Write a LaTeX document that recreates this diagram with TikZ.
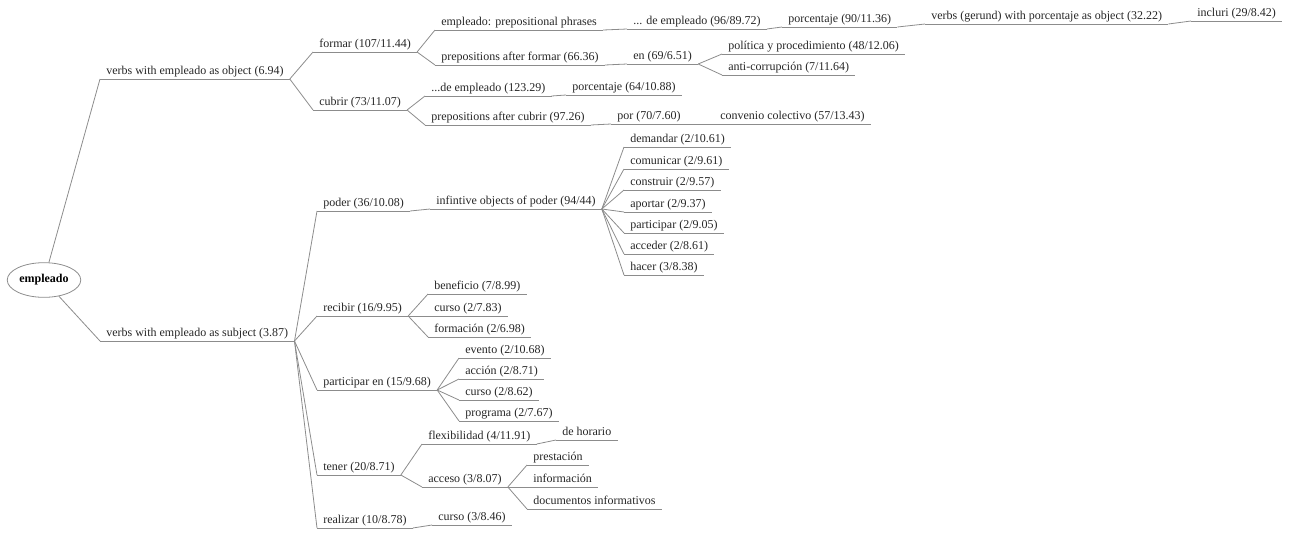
\documentclass[tikz,border=0pt]{standalone}
\usepackage{fontspec}
\setmainfont{Liberation Serif}
\usetikzlibrary{shapes.geometric}

\begin{document}
\begin{tikzpicture}[x=0.75pt,y=-0.75pt,
  ln/.style={draw=black!45,line width=0.6pt},
  lab/.style={anchor=south west,inner xsep=4.5pt,inner ysep=1pt,text depth=2.5pt,
    font=\fontsize{9}{10}\selectfont,text=black!85,
    append after command={(\tikzlastnode.south west) edge[ln] (\tikzlastnode.south east)}}]
\useasboundingbox (0,0) rectangle (1290,533);
% root
\node[ellipse,draw=black!45,line width=0.6pt,minimum width=51pt,minimum height=26pt,
  inner sep=1pt,font=\fontsize{9}{10}\selectfont\bfseries] (root) at (44,280) {empleado};
\node[lab] (obj) at (100,79) {verbs with empleado as object (6.94)};
\node[lab] (subj) at (100,341) {verbs with empleado as subject (3.87)};
\draw[ln] (root) -- (obj.south west);
\draw[ln] (root) -- (subj.south west);
% object branch
\node[lab] (formar) at (313,52) {formar (107/11.44)};
\node[lab] (cubrir) at (313,110) {cubrir (73/11.07)};
\node[lab] (pp) at (435,30) {empleado: prepositional phrases};
\node[lab] (pf) at (435,65) {prepositions after formar (66.36)};
\node[lab] (de1) at (627,29) {... de empleado (96/89.72)};
\node[lab] (porc1) at (782,27) {porcentaje (90/11.36)};
\node[lab] (ger) at (925,24) {verbs (gerund) with porcentaje as object (32.22)};
\node[lab] (incl) at (1191,21) {incluri (29/8.42)};
\node[lab] (en) at (627,64) {en (69/6.51)};
\node[lab] (pol) at (722,54) {política y procedimiento (48/12.06)};
\node[lab] (anti) at (722,75) {anti-corrupción (7/11.64)};
\node[lab] (de2) at (425,96) {...de empleado (123.29)};
\node[lab] (porc2) at (566,95) {porcentaje (64/10.88)};
\node[lab] (pc) at (425,125) {prepositions after cubrir (97.26)};
\node[lab] (por) at (611,124) {por (70/7.60)};
\node[lab] (conv) at (714,124) {convenio colectivo (57/13.43)};
\draw[ln] (obj.south east) -- (formar.south west);
\draw[ln] (obj.south east) -- (cubrir.south west);
\draw[ln] (formar.south east) -- (pp.south west);
\draw[ln] (formar.south east) -- (pf.south west);
\draw[ln] (pp.south east) -- (de1.south west);
\draw[ln] (de1.south east) -- (porc1.south west);
\draw[ln] (porc1.south east) -- (ger.south west);
\draw[ln] (ger.south east) -- (incl.south west);
\draw[ln] (pf.south east) -- (en.south west);
\draw[ln] (en.south east) -- (pol.south west);
\draw[ln] (en.south east) -- (anti.south west);
\draw[ln] (cubrir.south east) -- (de2.south west);
\draw[ln] (cubrir.south east) -- (pc.south west);
\draw[ln] (de2.south east) -- (porc2.south west);
\draw[ln] (pc.south east) -- (por.south west);
\draw[ln] (por.south east) -- (conv.south west);
% subject branch
\node[lab] (poder) at (317,211) {poder (36/10.08)};
\node[lab] (inf) at (430,209) {infintive objects of poder (94/44)};
\node[lab] (dem) at (624,147) {demandar (2/10.61)};
\node[lab] (com) at (624,169) {comunicar (2/9.61)};
\node[lab] (cons) at (624,190) {construir (2/9.57)};
\node[lab] (apo) at (624,212) {aportar (2/9.37)};
\node[lab] (parti) at (624,233) {participar (2/9.05)};
\node[lab] (acc) at (624,254) {acceder (2/8.61)};
\node[lab] (hac) at (624,275) {hacer (3/8.38)};
\draw[ln] (subj.south east) -- (poder.south west);
\draw[ln] (poder.south east) -- (inf.south west);
\draw[ln] (inf.south east) -- (dem.south west);
\draw[ln] (inf.south east) -- (com.south west);
\draw[ln] (inf.south east) -- (cons.south west);
\draw[ln] (inf.south east) -- (apo.south west);
\draw[ln] (inf.south east) -- (parti.south west);
\draw[ln] (inf.south east) -- (acc.south west);
\draw[ln] (inf.south east) -- (hac.south west);
\node[lab] (rec) at (317,316) {recibir (16/9.95)};
\node[lab] (ben) at (428,294) {beneficio (7/8.99)};
\node[lab] (cur1) at (428,316) {curso (2/7.83)};
\node[lab] (form) at (428,337) {formación (2/6.98)};
\draw[ln] (subj.south east) -- (rec.south west);
\draw[ln] (rec.south east) -- (ben.south west);
\draw[ln] (rec.south east) -- (cur1.south west);
\draw[ln] (rec.south east) -- (form.south west);
\node[lab] (pen) at (317,390) {participar en (15/9.68)};
\node[lab] (eve) at (459,358) {evento (2/10.68)};
\node[lab] (acci) at (459,379) {acción (2/8.71)};
\node[lab] (cur2) at (459,400) {curso (2/8.62)};
\node[lab] (prog) at (459,421) {programa (2/7.67)};
\draw[ln] (subj.south east) -- (pen.south west);
\draw[ln] (pen.south east) -- (eve.south west);
\draw[ln] (pen.south east) -- (acci.south west);
\draw[ln] (pen.south east) -- (cur2.south west);
\draw[ln] (pen.south east) -- (prog.south west);
\node[lab] (ten) at (317,475) {tener (20/8.71)};
\node[lab] (flex) at (422,444) {flexibilidad (4/11.91)};
\node[lab] (hor) at (556,440) {de horario};
\node[lab] (acce) at (422,487) {acceso (3/8.07)};
\node[lab] (pres) at (527,465) {prestación};
\node[lab] (info) at (527,487) {información};
\node[lab] (doc) at (527,509) {documentos informativos};
\draw[ln] (subj.south east) -- (ten.south west);
\draw[ln] (ten.south east) -- (flex.south west);
\draw[ln] (flex.south east) -- (hor.south west);
\draw[ln] (ten.south east) -- (acce.south west);
\draw[ln] (acce.south east) -- (pres.south west);
\draw[ln] (acce.south east) -- (info.south west);
\draw[ln] (acce.south east) -- (doc.south west);
\node[lab] (real) at (317,528) {realizar (10/8.78)};
\node[lab] (cur3) at (432,525) {curso (3/8.46)};
\draw[ln] (subj.south east) -- (real.south west);
\draw[ln] (real.south east) -- (cur3.south west);
\end{tikzpicture}
\end{document}
